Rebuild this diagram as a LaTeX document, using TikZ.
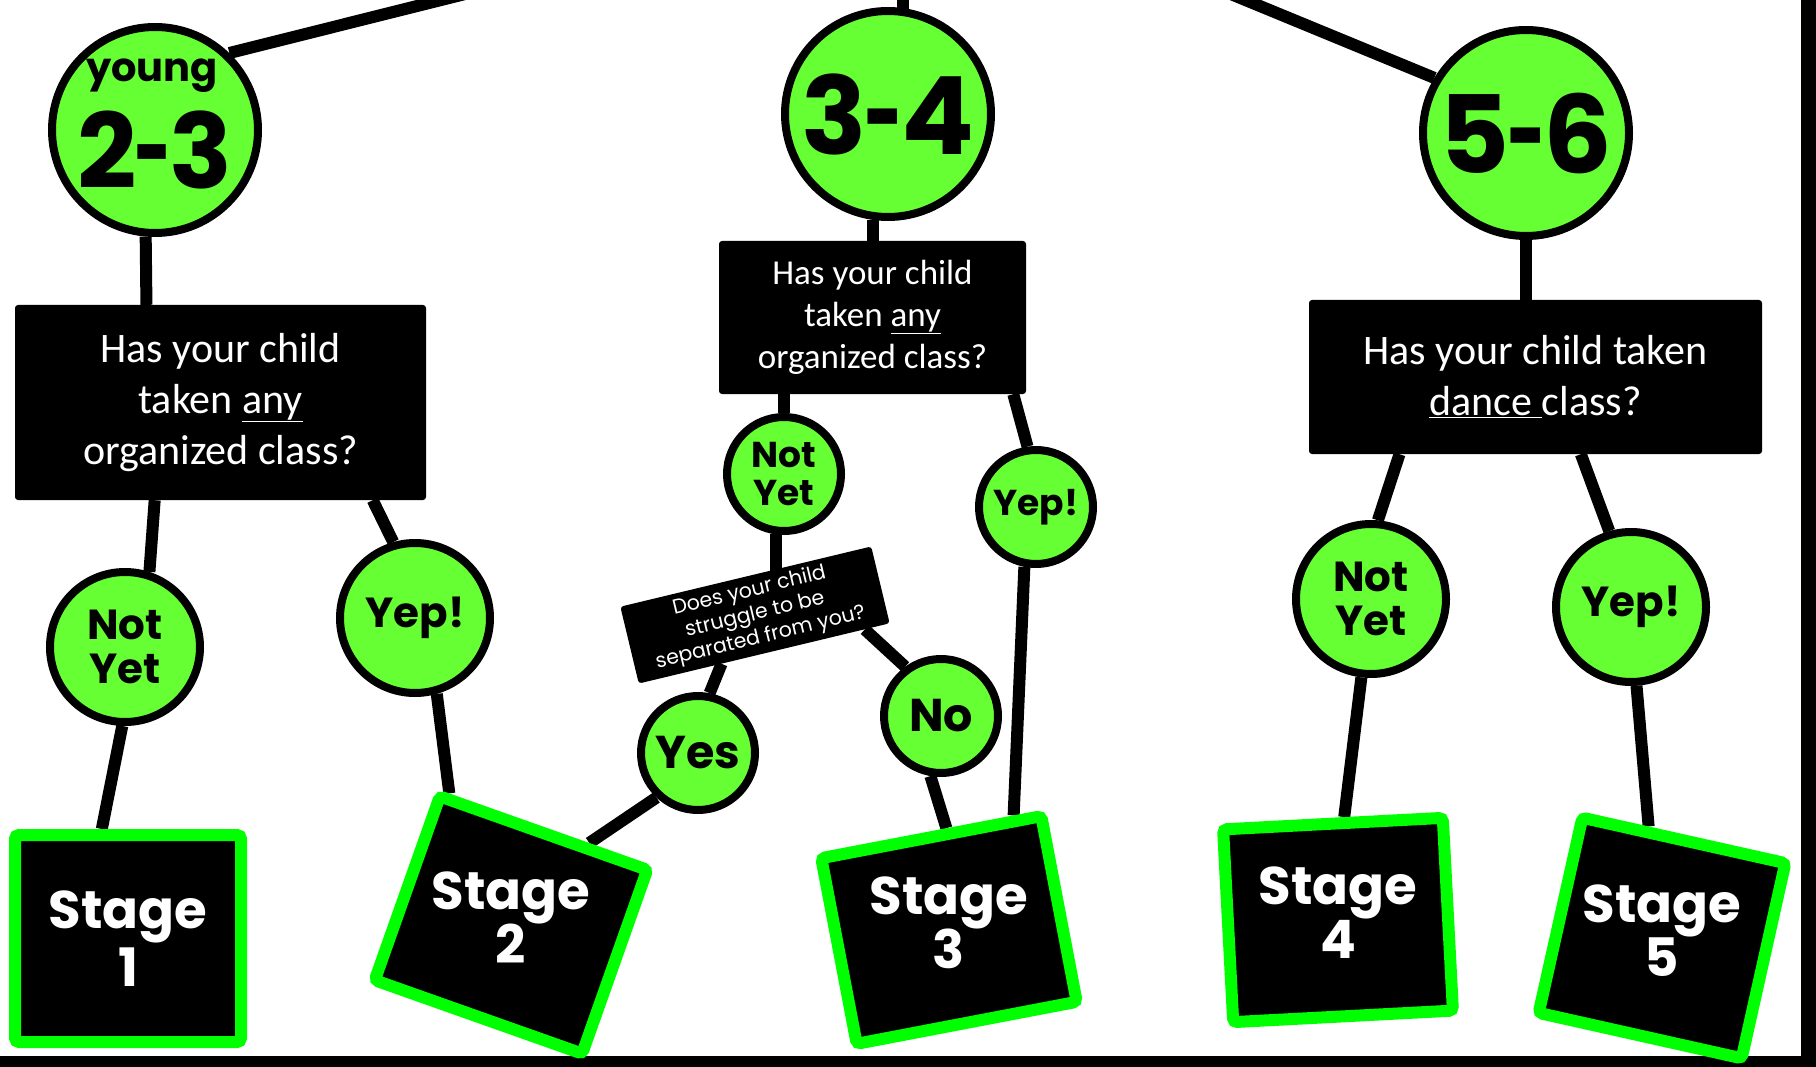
\documentclass[tikz,border=0pt]{standalone}
\usepackage{fontspec}
\setmainfont{Poppins}
\newfontfamily\handf{Carlito}
\usetikzlibrary{calc}
\definecolor{lime}{HTML}{66FF33}
\definecolor{sgreen}{HTML}{00FF00}
\pgfdeclarelayer{bg}
\pgfsetlayers{bg,main}
\newcommand{\agetxt}[2]{#1\kern-0.02em\scalebox{0.62}[1]{-}\kern-0.02em#2}
\tikzset{
  bubble/.style={circle, draw=black, line width=8, fill=lime, inner sep=0, align=center},
  bigbubble/.style={bubble, minimum size=150, font=\bfseries\fontsize{42}{44}\selectfont},
  smallbubble/.style={bubble, minimum size=114, font=\bfseries\fontsize{36}{38}\selectfont},
  agebubble/.style={bubble, minimum size=206, font=\bfseries\fontsize{108}{108}\selectfont},
  qbox/.style={rectangle, fill=black, rounded corners=3, text=white, align=center, inner sep=0},
  stagebox/.style={rectangle, draw=sgreen, line width=12, fill=black, rounded corners=4,
    text=white, align=center, inner sep=0, font=\bfseries\fontsize{53}{58}\selectfont},
  conn/.style={line width=12, black}
}
\begin{document}
\begin{tikzpicture}[x=1pt,y=-1pt]
\useasboundingbox (0,0) rectangle (1816,1067);
\fill[black] (1801,0) rectangle (1816,1067);
\fill[black] (0,1056) rectangle (1816,1067);

% age bubbles
\node[agebubble] (c23) at (155,130) {};
\node[font=\bfseries\fontsize{40}{40}\selectfont] (t23a) at (152,76) {young};
\node[font=\bfseries\fontsize{104}{104}\selectfont] (t23b) at (155,150) {\agetxt{2}{3}};
\node[agebubble] (c34) at (888,114) {\agetxt{3}{4}};
\node[agebubble] (c56) at (1526,133) {\agetxt{5}{6}};

\coordinate (top23) at (481,-10);
\coordinate (top34) at (903,-10);
\coordinate (top56) at (1221,-10);

% question boxes
\node[qbox, minimum width=411, minimum height=195, font=\handf\fontsize{42}{51}\selectfont]
  (box1) at (220.5,402.5) {Has your child\\taken \underline{any}\\organized class?};
\node[qbox, minimum width=307, minimum height=153, font=\handf\fontsize{35}{42}\selectfont]
  (box2) at (872.5,317.5) {Has your child\\taken \underline{any}\\organized class?};
\node[qbox, minimum width=453, minimum height=154, font=\handf\fontsize{42}{51}\selectfont]
  (box3) at (1535.5,377) {Has your child taken\\\underline{dance\ }class?};
\node[qbox, minimum width=258, minimum height=79, rotate=13.5, font=\fontsize{20.5}{24}\selectfont]
  (q) at (755,615) {Does your child\\struggle to be\\separated from you?};

% answer bubbles
\node[bigbubble] (nt1) at (125,647) {Not\\Yet};
\node[bigbubble] (yp1) at (415,618) {Yep!};
\node[smallbubble] (nt2) at (784,474) {Not\\Yet};
\node[smallbubble] (yp2) at (1036,507) {Yep!};
\node[smallbubble, font=\bfseries\fontsize{46}{46}\selectfont] (yes) at (698,753) {Yes};
\node[smallbubble, font=\bfseries\fontsize{46}{46}\selectfont] (no) at (941,716) {No};
\node[bigbubble] (nt3) at (1371,599) {Not\\Yet};
\node[bigbubble] (yp3) at (1631,607) {Yep!};

% stage boxes
\node[stagebox, minimum width=226, minimum height=207] (s1) at (128,938.5) {Stage\\1};
\node[stagebox, minimum width=220, minimum height=195, rotate=-19.5] (s2) at (511,925)
  {\rotatebox{19.5}{\begin{tabular}{@{}c@{}}Stage\\[-4pt]2\end{tabular}}};
\node[stagebox, minimum width=224, minimum height=189, rotate=10.8] (s3) at (949,930)
  {\rotatebox{-10.8}{\begin{tabular}{@{}c@{}}Stage\\[-4pt]3\end{tabular}}};
\node[stagebox, minimum width=220, minimum height=193, rotate=3] (s4) at (1338,920)
  {\rotatebox{-3}{\begin{tabular}{@{}c@{}}Stage\\[-4pt]4\end{tabular}}};
\node[stagebox, minimum width=208, minimum height=200, rotate=-12.6] (s5) at (1662,938)
  {\rotatebox{12.6}{\begin{tabular}{@{}c@{}}Stage\\[-4pt]5\end{tabular}}};

% connectors
\begin{pgfonlayer}{bg}
\draw[conn] (c23.46) -- (top23);
\draw[conn] (top34) -- (top34 |- c34.center);
\draw[conn] (c56.149) -- (top56);
\draw[conn] (c23.265) -- ($(box1.north west)!0.32!(box1.north east)$);
\draw[conn] (c34.262) -- (c34.262 |- box2.north);
\draw[conn] (c56) -- (c56 |- box3.north);
\draw[conn] ($(box1.south west)!0.34!(box1.south east)$) -- (nt1.72);
\draw[conn] ($(box1.south west)!0.87!(box1.south east)$) -- (yp1.106);
\draw[conn] (nt1.268) -- ($(s1.north west)!0.39!(s1.north east)$);
\draw[conn] (yp1.286) -- ($(s2.north west)!0.06!(s2.north east)$);
\draw[conn] (yes.227) -- ($(s2.north west)!0.7!(s2.north east)$);
\draw[conn] (nt2) -- (nt2 |- box2.south);
\draw[conn] ($(box2.south west)!0.958!(box2.south east)$) -- (yp2.98);
\draw[conn] (nt2.262) -- (nt2.262 |- q.center);
\draw[conn] (yes.79) -- ($(q.south west)!0.33!(q.south east)$);
\draw[conn] ($(q.south west)!0.9!(q.south east)$) -- (no.126);
\draw[conn] (no.260) -- ($(s3.north west)!0.57!(s3.north east)$);
\draw[conn] (yp2.259) -- ($(s3.north west)!0.86!(s3.north east)$);
\draw[conn] ($(box3.south west)!0.2!(box3.south east)$) -- (nt3.85);
\draw[conn] ($(box3.south west)!0.6!(box3.south east)$) -- (yp3.106);
\draw[conn] (nt3.263) -- ($(s4.north west)!0.55!(s4.north east)$);
\draw[conn] (yp3.274) -- ($(s5.north west)!0.33!(s5.north east)$);
\end{pgfonlayer}
\end{tikzpicture}
\end{document}
